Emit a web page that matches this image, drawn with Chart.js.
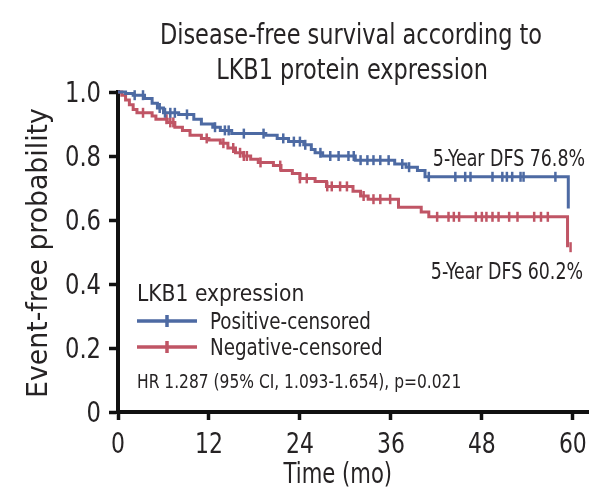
<!DOCTYPE html>
<html>
<head>
<meta charset="utf-8">
<style>
  html, body { margin: 0; padding: 0; background: #fff; }
  #wrap { width: 611px; height: 502px; }
</style>
</head>
<body>
<div id="wrap"><canvas id="kmChart" width="611" height="502"></canvas></div>
<script src="https://cdn.jsdelivr.net/npm/chart.js"></script>
<script>
  // Kaplan-Meier steps (month, survival after the event)
  const posTime = [0, 1, 2, 3.5, 4.5, 5.2, 6, 8, 10, 11, 12.5, 13.5, 15, 19.5, 21, 22.5, 24.5, 25.5, 26, 27, 31.3, 36.5, 38, 39.5, 40.5, 59.4];
  const posSurv = [1.0, 0.995, 0.99, 0.98, 0.965, 0.95, 0.935, 0.93, 0.915, 0.90, 0.89, 0.88, 0.87, 0.865, 0.855, 0.845, 0.835, 0.82, 0.81, 0.80, 0.787, 0.775, 0.765, 0.755, 0.735, 0.636];
  const negTime = [0, 0.5, 1, 1.5, 2, 2.5, 4.5, 5, 6.5, 7.5, 8.5, 9.5, 11, 12, 13.5, 14.5, 15.5, 16.5, 17.5, 18.5, 20.5, 21.5, 23, 24, 26, 27.5, 31, 32, 33, 37, 40, 41, 59.3];
  const negSurv = [1.0, 0.99, 0.975, 0.96, 0.945, 0.935, 0.925, 0.915, 0.905, 0.89, 0.88, 0.865, 0.855, 0.85, 0.84, 0.825, 0.81, 0.80, 0.79, 0.78, 0.77, 0.755, 0.745, 0.73, 0.72, 0.705, 0.69, 0.675, 0.665, 0.64, 0.625, 0.61, 0.515];

  // censored observations (months)
  const posCensor = [2.2, 3.3, 5.5, 6.2, 6.9, 7.5, 9.1, 12.8, 14.1, 14.6, 16.6, 19.2, 21.8, 23.2, 24.0, 24.7, 26.7, 28.0, 29.1, 30.4, 31.1, 32.0, 32.9, 33.7, 34.6, 35.7, 37.5, 38.4, 41.0, 44.5, 45.8, 46.5, 49.4, 50.7, 51.3, 52.0, 53.1, 53.5, 57.7];
  const negCensor = [3.3, 6.4, 6.9, 7.3, 11.7, 13.9, 15.2, 16.1, 16.6, 17.0, 18.8, 21.4, 24.0, 24.9, 27.6, 28.2, 29.3, 30.2, 32.4, 33.7, 34.6, 35.9, 42.1, 43.6, 44.3, 45.0, 47.2, 48.0, 48.6, 49.4, 50.2, 51.6, 52.7, 54.9, 55.8, 56.7, 59.7];

  const xTicks = [0, 12, 24, 36, 48, 60];
  const yTicks = [0, 0.2, 0.4, 0.6, 0.8, 1.0];
  const yTickLabels = ['0', '0.2', '0.4', '0.6', '0.8', '1.0'];

  const titleLines = ['Disease-free survival according to', 'LKB1 protein expression'];
  const xTitle = 'Time (mo)';
  const yTitle = 'Event-free probability';
  const legendTitle = 'LKB1 expression';
  const seriesNames = ['Positive-censored', 'Negative-censored'];
  const dfsLabels = ['5-Year DFS 76.8%', '5-Year DFS 60.2%'];
  const hrText = 'HR 1.287 (95% CI, 1.093-1.654), p=0.021';

  const BLUE = '#4d6aa3';
  const RED  = '#c05565';
  const INK  = '#262324';
  const FONT = "'DejaVu Sans Condensed', 'Liberation Sans Narrow', sans-serif";

  // value of the step curve at time t
  function survAt(times, surv, t) {
    let s = surv[0];
    for (let i = 0; i < times.length; i++) {
      if (times[i] <= t) s = surv[i];
    }
    return s;
  }

  const toPts = (xs, ys) => xs.map((x, i) => ({ x, y: ys[i] }));
  const censorPts = (cs, times, surv) => cs.map(t => ({ x: t, y: survAt(times, surv, t) }));

  // condensed text: x/y is the anchor, y is the baseline
  function txt(ctx, str, x, y, size, align, stretch, rot) {
    ctx.save();
    ctx.translate(x, y);
    if (rot) ctx.rotate(rot);
    ctx.scale(stretch, 1);
    ctx.font = `${size}px ${FONT}`;
    ctx.textAlign = align;
    ctx.textBaseline = 'alphabetic';
    ctx.fillStyle = INK;
    ctx.fillText(str, 0, 0);
    ctx.restore();
  }

  // all text of the figure, placed against the chart scales
  const textPlugin = {
    id: 'kmText',
    afterDraw(chart) {
      const { ctx, chartArea: a, scales: { x, y } } = chart;

      txt(ctx, titleLines[0], 351, 44, 28.5, 'center', 0.875);
      txt(ctx, titleLines[1], 352, 79, 28.5, 'center', 0.875);

      yTicks.forEach((v, i) => txt(ctx, yTickLabels[i], 101, y.getPixelForValue(v) + 10, 28, 'right', 0.9));
      xTicks.forEach(v => txt(ctx, String(v), x.getPixelForValue(v), 453, 28, 'center', 0.87));
      txt(ctx, xTitle, x.getPixelForValue(29), 483, 28, 'center', 0.84);
      txt(ctx, yTitle, 47, 253, 27.5, 'center', 1.08, -Math.PI / 2);

      txt(ctx, dfsLabels[0], a.right - 3, 165.5, 22.5, 'right', 0.86);
      txt(ctx, dfsLabels[1], a.right - 5, 278.5, 22.5, 'right', 0.86);

      txt(ctx, legendTitle, 137, 300.5, 23.5, 'left', 0.96);
      const colors = [BLUE, RED];
      [321, 347].forEach((ly, i) => {
        ctx.save();
        ctx.strokeStyle = colors[i];
        ctx.lineWidth = 3.5;
        ctx.beginPath();
        ctx.moveTo(137, ly); ctx.lineTo(197, ly);
        ctx.moveTo(167, ly - 6); ctx.lineTo(167, ly + 6);
        ctx.stroke();
        ctx.restore();
        txt(ctx, seriesNames[i], 210, ly + 8, 22.5, 'left', 0.905);
      });

      txt(ctx, hrText, 137, 387.5, 19.8, 'left', 0.87);
    }
  };

  const censorStyle = {
    type: 'scatter',
    showLine: false,
    pointStyle: 'line',
    rotation: 90,
    pointRadius: 5,
    pointBorderWidth: 2.5,
    clip: false
  };

  new Chart(document.getElementById('kmChart'), {
    type: 'line',
    data: {
      datasets: [
        { data: toPts(posTime, posSurv), borderColor: BLUE, borderWidth: 3, stepped: 'before', pointRadius: 0, clip: false },
        { data: toPts(negTime, negSurv), borderColor: RED, borderWidth: 3, stepped: 'before', pointRadius: 0, clip: false },
        Object.assign({ data: censorPts(posCensor, posTime, posSurv), borderColor: BLUE, pointBorderColor: BLUE }, censorStyle),
        Object.assign({ data: censorPts(negCensor, negTime, negSurv), borderColor: RED, pointBorderColor: RED }, censorStyle)
      ]
    },
    options: {
      responsive: false,
      animation: false,
      layout: { padding: { left: 0, right: 23, top: 92, bottom: 0 } },
      plugins: {
        legend: { display: false },
        tooltip: { enabled: false },
        title: { display: false }
      },
      scales: {
        x: {
          type: 'linear',
          min: 0,
          max: 62,
          afterBuildTicks: s => { s.ticks = xTicks.map(v => ({ value: v })); },
          afterFit: s => { s.height = 90; },
          border: { color: '#111', width: 4 },
          grid: { drawOnChartArea: false, drawTicks: true, tickLength: 8, tickWidth: 3.5, tickColor: '#111' },
          ticks: { display: false }
        },
        y: {
          type: 'linear',
          min: 0,
          max: 1,
          afterBuildTicks: s => { s.ticks = yTicks.map(v => ({ value: v })); },
          afterFit: s => { s.width = 118; },
          border: { color: '#111', width: 4 },
          grid: { drawOnChartArea: false, drawTicks: true, tickLength: 9, tickWidth: 3.5, tickColor: '#111' },
          ticks: { display: false }
        }
      }
    },
    plugins: [textPlugin]
  });
</script>
</body>
</html>
